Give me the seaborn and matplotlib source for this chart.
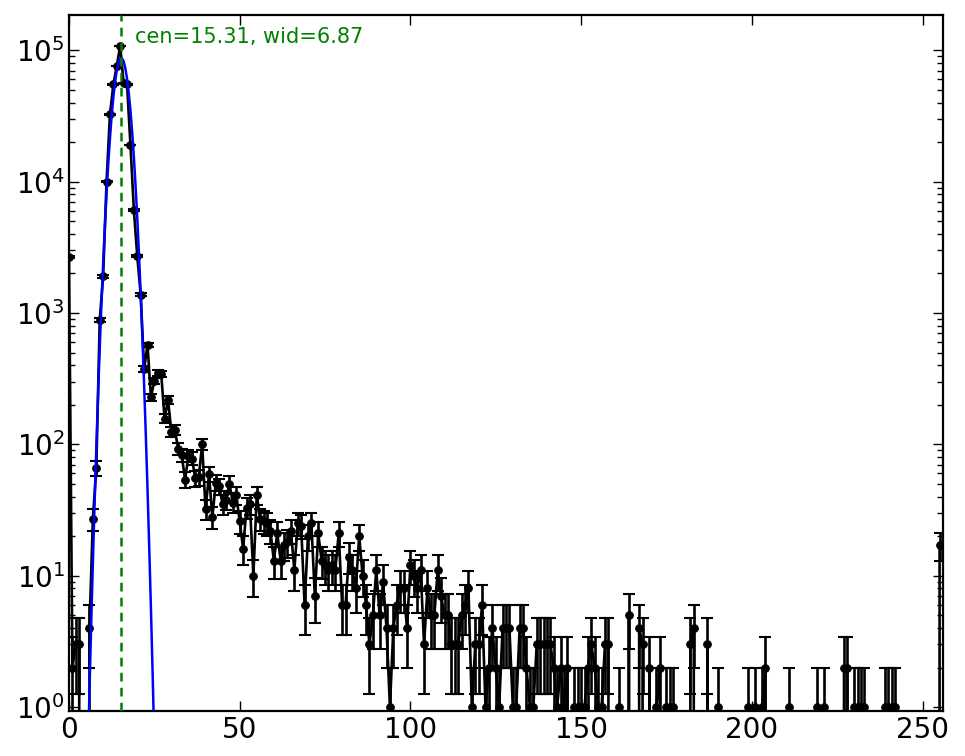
import numpy as np
import pandas as pd
import matplotlib
matplotlib.use("Agg")
import matplotlib.pyplot as plt
import seaborn as sns

# ---------------------------------------------
# Data
# ---------------------------------------------

# counts per bin, bins 0..255 (16 per row)
counts = [
    2650, 2, 3, 3, 0, 0, 4, 27, 66, 880, 1900, 10000, 32500, 55000, 76000, 108000,
    56000, 55000, 19000, 6100, 2700, 1380, 375, 570, 228, 305, 350, 345, 157, 218, 124, 129,
    92, 83, 54, 82, 78, 55, 56, 100, 32, 59, 28, 51, 48, 35, 38, 50,
    36, 41, 26, 16, 33, 35, 10, 41, 27, 26, 25, 22, 13, 21, 13, 17,
    18, 22, 11, 25, 24, 6, 20, 25, 7, 21, 13, 12, 11, 12, 11, 21,
    6, 6, 14, 11, 8, 20, 10, 6, 3, 5, 11, 5, 9, 4, 1, 4,
    6, 8, 8, 4, 12, 10, 8, 11, 3, 8, 5, 5, 11, 7, 5, 5,
    3, 3, 3, 5, 6, 8, 1, 3, 3, 6, 1, 2, 4, 2, 1, 4,
    4, 4, 1, 1, 4, 4, 2, 1, 1, 3, 3, 3, 3, 3, 2, 1,
    2, 1, 2, 0, 1, 1, 1, 1, 2, 3, 2, 1, 1, 3, 3, 0,
    0, 1, 0, 0, 5, 0, 0, 4, 3, 0, 2, 0, 1, 2, 0, 1,
    1, 1, 0, 0, 0, 0, 3, 4, 0, 0, 0, 3, 0, 0, 1, 0,
    0, 0, 0, 0, 0, 0, 0, 1, 0, 1, 0, 1, 2, 0, 0, 0,
    0, 0, 0, 1, 0, 0, 0, 0, 0, 0, 0, 1, 0, 1, 0, 0,
    0, 0, 0, 2, 2, 0, 1, 1, 1, 1, 0, 0, 0, 0, 0, 1,
    1, 1, 1, 0, 0, 0, 0, 0, 0, 0, 0, 0, 0, 0, 0, 17,
]
bins = list(range(len(counts)))

# fitted curve
fit_x = [5.5, 6.0, 6.5, 7.0, 7.5, 8.0, 8.5, 9.0, 9.5, 10.0,
         10.5, 11.0, 11.5, 12.0, 12.5, 13.0, 13.5, 14.0, 14.5, 15.0,
         15.5, 16.0, 16.5, 17.0, 17.5, 18.0, 18.5, 19.0, 19.5, 20.0,
         20.5, 21.0, 21.5, 22.0, 22.5, 23.0, 23.5, 24.0, 24.5, 25.0]
fit_y = [0.39, 1.34, 4.27, 12.7, 35.7, 94, 231, 537, 1166, 2380,
         4540, 8120, 13650, 21500, 31850, 44270, 57540, 70250, 80490, 86460,
         87030, 82380, 72900, 60670, 47400, 34700, 23790, 15360, 9260, 5240,
         2790, 1394, 650, 285, 117.6, 45.4, 16.4, 5.6, 1.78, 0.53]

cen = 15.31
wid = 6.87

df = pd.DataFrame({"bin": bins, "counts": counts})
df["err"] = np.sqrt(df["counts"])

fit_df = pd.DataFrame({"x": fit_x, "y": fit_y})

# ---------------------------------------------
# Style
# ---------------------------------------------
sns.set_theme(style="ticks", rc={
    "axes.linewidth": 1.6,
    "axes.edgecolor": "black",
    "xtick.direction": "in",
    "ytick.direction": "in",
    "xtick.top": True,
    "ytick.right": True,
    "xtick.color": "black",
    "ytick.color": "black",
    "text.color": "black",
})
plt.rcParams["font.family"] = ["DejaVu Sans"]
plt.rcParams["mathtext.fontset"] = "dejavusans"

fig = plt.figure(figsize=(9.65, 7.56), dpi=100)
ax = fig.add_axes([0.0715, 0.060, 0.9057, 0.920])

# error bars + data line
ax.errorbar(df["bin"], df["counts"], yerr=df["err"], fmt="none",
            ecolor="black", elinewidth=1.9, capsize=4.5, capthick=1.5, zorder=2)
sns.lineplot(data=df, x="bin", y="counts", color="black", linewidth=1.9,
             marker="o", markersize=5.5, markeredgecolor="black",
             errorbar=None, ax=ax, zorder=3)

# gaussian fit
sns.lineplot(data=fit_df, x="x", y="y", color="blue", linewidth=1.8,
             errorbar=None, ax=ax, zorder=4)

ax.set_yscale("log")

# centre marker
ax.axvline(cen, color="green", linestyle="--", dashes=(3.5, 2.5),
           linewidth=1.8, zorder=5)
ax.text(19.3, 1.13e5, f"cen={cen:.2f}, wid={wid:.2f}", color="green",
        fontsize=15, va="baseline", ha="left")

ax.set_xlim(0, 256)
ax.set_ylim(0.94, 1.85e5)
ax.set_xticks([0, 50, 100, 150, 200, 250])
ax.set_xlabel("")
ax.set_ylabel("")

ax.tick_params(axis="both", which="major", labelsize=20, length=7,
               width=1.0, color="black", labelcolor="black")
ax.tick_params(axis="y", which="minor", length=4, width=1.0, color="black")
ax.tick_params(axis="y", which="major", pad=3)
ax.tick_params(axis="x", which="major", pad=4)

for side in ["top", "right", "bottom", "left"]:
    ax.spines[side].set_visible(True)

plt.savefig("out.png", dpi=100)
plt.close()
